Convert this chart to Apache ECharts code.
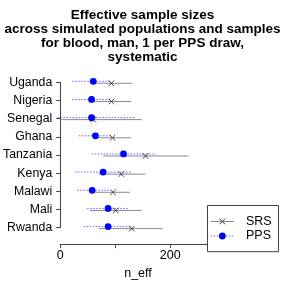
<!DOCTYPE html>
<html>
<head>
<meta charset="utf-8">
<script src="https://cdn.jsdelivr.net/npm/echarts@6/dist/echarts.min.js"></script>
<style>
html,body{margin:0;padding:0;background:#fff;}
#chart{width:285px;height:285px;}
</style>
</head>
<body>
<div id="chart"></div>
<script>
// ---- data ----
var countries = ['Uganda','Nigeria','Senegal','Ghana','Tanzania','Kenya','Malawi','Mali','Rwanda'];
var srsEst = [93, 93, 60, 95, 155, 111, 96, 101, 130];
var srsLo  = [62, 58, -1, 64, 78, 70, 61, 54, 70];
var srsHi  = [131, 129, 148, 129, 233, 155, 127, 148, 186];
var ppsEst = [60, 57, 57, 64, 115, 78, 58, 87, 87];
var ppsLo  = [22, 22, -5, 34, 57, 27, 31, 49, 43];
var ppsHi  = [92, 92, 134, 92, 173, 130, 88, 125, 128];
var xTickValues = [0, 100, 200, 300];
var xTickLabels = ['0', '', '200', ''];
var titleText = 'Effective sample sizes\nacross simulated populations and samples\nfor blood, man, 1 per PPS draw,\nsystematic';
var legendNames = ['SRS', 'PPS'];

function rows(lo, hi, est) {
  return countries.map(function (c, i) { return [lo[i], hi[i], est[i], i]; });
}

var SRS_COLOR = '#8a8a8a';
var X_COLOR = '#444';
var PPS_COLOR = '#0000ff';

function xMarker(cx, cy, r, color) {
  return [
    {type: 'line', shape: {x1: cx - r, y1: cy - r, x2: cx + r, y2: cy + r}, style: {stroke: color, lineWidth: 1}},
    {type: 'line', shape: {x1: cx - r, y1: cy + r, x2: cx + r, y2: cy - r}, style: {stroke: color, lineWidth: 1}}
  ];
}

function renderSRS(params, api) {
  var a = api.coord([api.value(0), api.value(3)]);
  var b = api.coord([api.value(1), api.value(3)]);
  var c = api.coord([api.value(2), api.value(3)]);
  var dy = 1;
  var children = [
    {type: 'line', shape: {x1: a[0], y1: a[1] + dy, x2: b[0], y2: b[1] + dy}, style: {stroke: SRS_COLOR, lineWidth: 1}}
  ].concat(xMarker(c[0], c[1] + dy, 2.8, X_COLOR));
  return {type: 'group', children: children};
}

function renderPPS(params, api) {
  var a = api.coord([api.value(0), api.value(3)]);
  var b = api.coord([api.value(1), api.value(3)]);
  var c = api.coord([api.value(2), api.value(3)]);
  var dy = -1;
  return {type: 'group', children: [
    {type: 'line', shape: {x1: a[0], y1: a[1] + dy, x2: b[0], y2: b[1] + dy}, style: {stroke: PPS_COLOR, lineWidth: 1, lineDash: [1.5, 1.5], opacity: 0.6}},
    {type: 'circle', shape: {cx: c[0], cy: c[1] + dy, r: 3.4}, style: {fill: PPS_COLOR}}
  ]};
}

var chart = echarts.init(document.getElementById('chart'), null, {renderer: 'canvas'});

var option = {
  animation: false,
  backgroundColor: '#fff',
  title: {
    text: titleText,
    left: 'center',
    top: 8,
    padding: 0,
    textStyle: {fontFamily: 'Liberation Sans', fontWeight: 'bold', fontSize: 13.5, lineHeight: 14.2, color: '#000'}
  },
  grid: {left: 59.3, width: 166, top: 82.3, height: 152.9, containLabel: false},
  xAxis: {
    type: 'value',
    min: 0, max: 300, interval: 100,
    offset: 16.5,
    splitLine: {show: false},
    axisLine: {show: true, lineStyle: {color: '#444', width: 1}},
    axisTick: {show: true, length: 4, lineStyle: {color: '#444'}},
    axisLabel: {
      margin: 5, fontFamily: 'Liberation Sans', fontSize: 12.5, color: '#000',
      formatter: function (v) { var i = xTickValues.indexOf(v); return i >= 0 ? xTickLabels[i] : ''; }
    },
    name: 'n_eff',
    nameLocation: 'middle',
    nameGap: 20,
    nameTextStyle: {fontFamily: 'Liberation Sans', fontSize: 12.5, color: '#000', padding: [0, 9.6, 0, 0]}
  },
  yAxis: {
    type: 'category',
    data: countries,
    inverse: true,
    boundaryGap: false,
    axisLine: {show: true, lineStyle: {color: '#444', width: 1}},
    axisTick: {show: true, length: 4, alignWithLabel: true, lineStyle: {color: '#444'}},
    axisLabel: {margin: 8, fontFamily: 'Liberation Sans', fontSize: 12.3, color: '#000', interval: 0},
    splitLine: {show: false}
  },
  series: [
    {name: legendNames[0], type: 'custom', renderItem: renderSRS, data: rows(srsLo, srsHi, srsEst), encode: {x: [0, 1, 2], y: 3}, clip: false, z: 2},
    {name: legendNames[1], type: 'custom', renderItem: renderPPS, data: rows(ppsLo, ppsHi, ppsEst), encode: {x: [0, 1, 2], y: 3}, clip: false, z: 3}
  ],
  graphic: [
    {type: 'rect', shape: {x: 207.5, y: 205.5, width: 71, height: 46.2}, style: {fill: '#fff', stroke: '#444', lineWidth: 1}, z: 10},
    {type: 'line', shape: {x1: 210.7, y1: 221.5, x2: 234, y2: 221.5}, style: {stroke: SRS_COLOR, lineWidth: 1}, z: 11},
    {type: 'line', shape: {x1: 219.5, y1: 218.7, x2: 225.1, y2: 224.3}, style: {stroke: X_COLOR, lineWidth: 1}, z: 11},
    {type: 'line', shape: {x1: 219.5, y1: 224.3, x2: 225.1, y2: 218.7}, style: {stroke: X_COLOR, lineWidth: 1}, z: 11},
    {type: 'text', x: 246, y: 221.5, style: {text: legendNames[0], fontFamily: 'Liberation Sans', fontSize: 12.5, fill: '#000', verticalAlign: 'middle', align: 'left'}, z: 11},
    {type: 'line', shape: {x1: 210.7, y1: 236, x2: 234, y2: 236}, style: {stroke: PPS_COLOR, lineWidth: 1, lineDash: [1.5, 1.5], opacity: 0.6}, z: 11},
    {type: 'circle', shape: {cx: 222.3, cy: 236, r: 3.4}, style: {fill: PPS_COLOR}, z: 11},
    {type: 'text', x: 246, y: 236, style: {text: legendNames[1], fontFamily: 'Liberation Sans', fontSize: 12.5, fill: '#000', verticalAlign: 'middle', align: 'left'}, z: 11}
  ]
};
chart.setOption(option);
</script>
</body>
</html>
